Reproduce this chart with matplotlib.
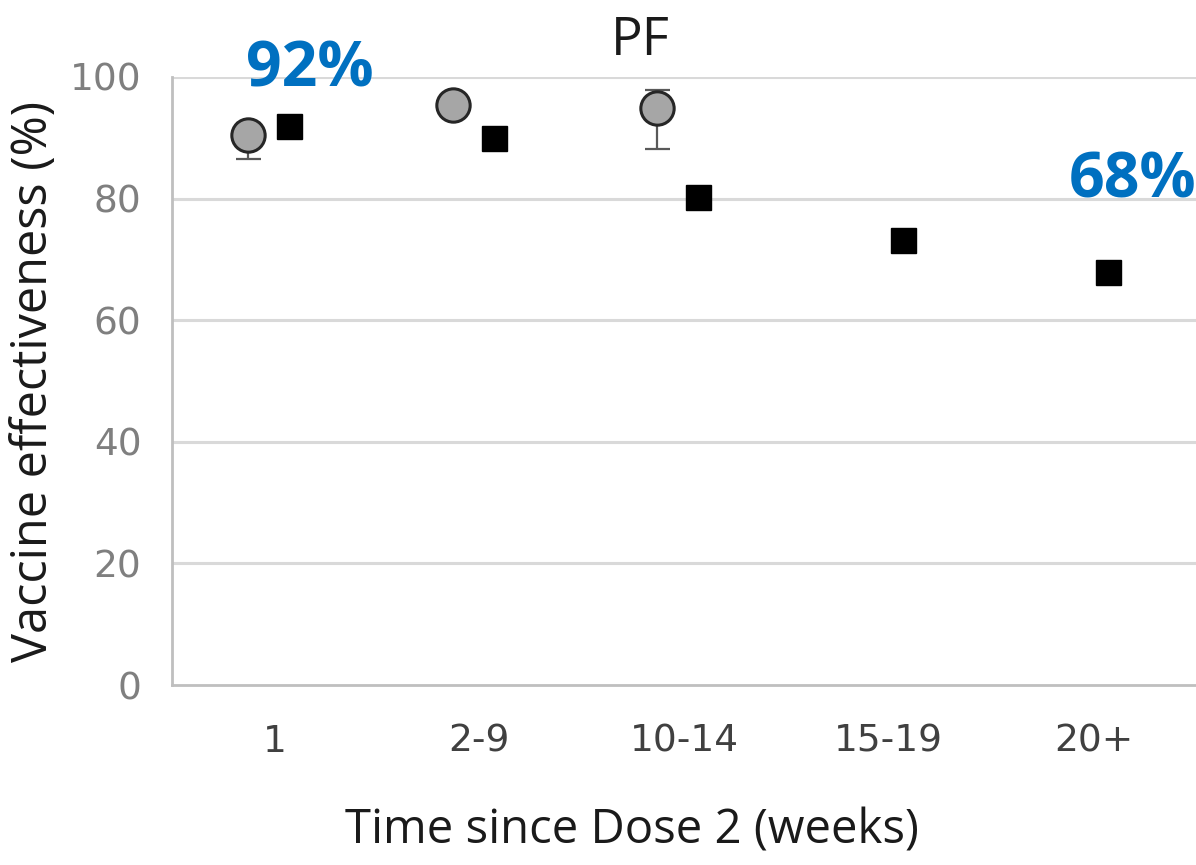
import matplotlib
matplotlib.use("Agg")
import matplotlib.pyplot as plt
import numpy as np

# Time since second dose and vaccine effectiveness estimates
categories = ["1", "2-9", "10-14", "15-19", "20+"]
circle_ve = [90.5, 95.4, 94.9]
circle_lo = [86.5, 94.0, 88.2]
circle_hi = [92.5, 96.5, 97.9]
square_ve = [92, 90.0, 80.3, 73.2, 68]
callout_idx = [0, 4]
yticks = [0, 20, 40, 60, 80, 100]

fig = plt.figure(figsize=(11.96, 8.65), dpi=100)
ax = fig.add_axes([0.1438, 0.208, 0.8562, 0.703])

x = np.arange(len(categories))
xc = x[:len(circle_ve)] - 0.13
xs = x + 0.07

ax.set_xlim(-0.5, 4.5)
ax.set_ylim(0, 100)

for y in yticks[1:]:
    ax.axhline(y, color="#d9d9d9", lw=2.2, zorder=0)

# Grey circles with confidence bars
err = [np.array(circle_ve) - np.array(circle_lo), np.array(circle_hi) - np.array(circle_ve)]
ax.errorbar(xc, circle_ve, yerr=err, fmt="none", ecolor="#595959", elinewidth=1.6,
            capsize=9, capthick=1.6, zorder=2)
ax.plot(xc, circle_ve, "o", ms=24, mfc="#a6a6a6", mec="#262626", mew=2.2, zorder=3)

# Black squares
ax.plot(xs, square_ve, "s", ms=18, color="black", zorder=3)

# Callout percentages
offsets = {0: (15, 40), 4: (18, 65)}
for i in callout_idx:
    ax.annotate(f"{square_ve[i]:.0f}%", xy=(xs[i], square_ve[i]), xytext=offsets[i],
                textcoords="offset points", ha="center", va="center",
                fontsize=45, fontweight="bold", color="#0070c0",
                family=["Open Sans", "DejaVu Sans"], zorder=4, annotation_clip=False)

for side in ["top", "right"]:
    ax.spines[side].set_visible(False)
for side in ["left", "bottom"]:
    ax.spines[side].set_color("#bfbfbf")
    ax.spines[side].set_linewidth(2)

ax.set_xticks(x)
ax.set_xticklabels(categories, fontsize=27, color="#404040",
                   family=["Liberation Sans Narrow", "DejaVu Sans"])
ax.set_yticks(yticks)
ax.set_yticklabels([str(v) for v in yticks], fontsize=27, color="#7f7f7f",
                   family=["DejaVu Sans"])
ax.tick_params(axis="both", length=0)
ax.tick_params(axis="x", pad=28)
ax.tick_params(axis="y", pad=22)

ax.set_xlabel("Time since Dose 2 (weeks)", fontsize=34, color="#1a1a1a",
              family=["Open Sans", "DejaVu Sans"])
ax.xaxis.set_label_coords(0.449, -0.2)
ax.set_ylabel("Vaccine effectiveness (%)", fontsize=35, color="#1a1a1a",
              family=["Open Sans", "DejaVu Sans"], labelpad=8)

fig.text(0.535, 0.952, "PF", ha="center", va="center", fontsize=38, color="#1a1a1a",
         family=["Open Sans", "DejaVu Sans"])

fig.savefig("out.png", dpi=100, facecolor="white")
